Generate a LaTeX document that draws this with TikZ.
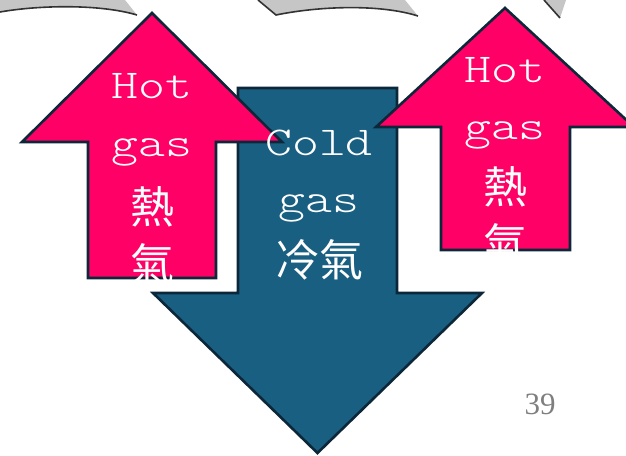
\documentclass[tikz,border=0pt]{standalone}
\usepackage{fontspec}
\setmainfont{Liberation Serif}
\newfontfamily\monof{lmmonolt10-regular.otf}[FakeStretch=1.25]
\newfontfamily\cjk{Noto Sans CJK TC}
\definecolor{hotpink}{HTML}{FF0066}
\definecolor{coldblue}{HTML}{195F81}
\definecolor{edgedark}{HTML}{0C2739}
\definecolor{pagegray}{HTML}{7F7F7F}
\tikzset{
  bigarrow/.style={draw=edgedark, line width=2.6pt, line join=miter},
  hotfill/.style={bigarrow, fill=hotpink},
  coldfill/.style={bigarrow, fill=coldblue},
  latin/.style={text=white, font=\monof\fontsize{41}{41}\selectfont, anchor=base, inner sep=0pt},
  han/.style={text=white, font=\cjk\fontsize{44}{44}\selectfont, anchor=center, inner sep=0pt},
  ribbon/.style={fill=gray!45, draw=none},
  ribbonedge/.style={draw=black!80, line width=1.6pt},
}
\begin{document}
\begin{tikzpicture}[x=1pt,y=1pt]
\useasboundingbox (0,0) rectangle (626,455);
\clip (0,0) rectangle (626,455);
% gray ribbons at top
\fill[ribbon] (0,455) -- (0,443) .. controls (40,450) and (100,451) .. (137,440) -- (125,455) -- cycle;
\draw[ribbonedge] (0,443) .. controls (40,450) and (100,451) .. (137,440);
\fill[ribbon] (258,455) -- (276,440) .. controls (320,449) and (380,451) .. (418,439) -- (405,455) -- cycle;
\draw[ribbonedge] (258,455) -- (276,440) .. controls (320,449) and (380,451) .. (418,439);
\fill[ribbon] (544,455) -- (560,437) -- (566,455) -- cycle;
\draw[ribbonedge] (544,455) -- (560,437);
% cold arrow (down)
\draw[coldfill] (238,367) -- (397,367) -- (397,162) -- (482,162) -- (317.5,2) -- (153,162) -- (238,162) -- cycle;
% hot arrows (up)
\draw[hotfill] (152,442) -- (282,313) -- (216,313) -- (216,177) -- (88,177) -- (88,313) -- (22,313) -- cycle;
\draw[hotfill] (505,447) -- (634,328) -- (570,328) -- (570,205) -- (441,205) -- (441,328) -- (376,328) -- cycle;
% texts
\node[latin] (h1a) at (152,356) {Hot};
\node[latin] (h1b) at (152,298) {gas};
\node[han] (h1c) at (152,248) {熱};
\node[han] (h1d) at (152,191) {氣};
\node[latin] (h2a) at (505,372) {Hot};
\node[latin] (h2b) at (505,315) {gas};
\node[han] (h2c) at (505,268) {熱};
\node[han] (h2d) at (505,211) {氣};
\node[latin] (c1) at (319,299) {Cold};
\node[latin] (c2) at (319,242) {gas};
\node[han] (c3) at (319,195) {冷氣};
\node[text=pagegray, font=\fontsize{31}{31}\selectfont, inner sep=0pt] (pg) at (540,51) {39};
\end{tikzpicture}
\end{document}
